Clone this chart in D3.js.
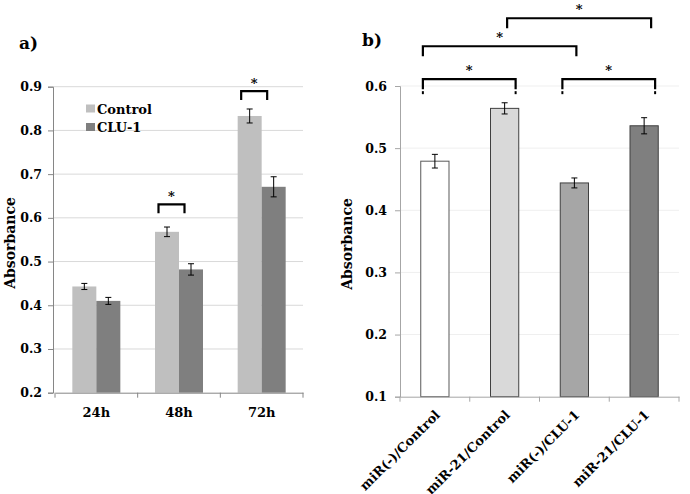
<!DOCTYPE html>
<html><head><meta charset="utf-8">
<script src="https://cdn.jsdelivr.net/npm/d3@7"></script>
<style>
body{margin:0;background:#fff;}
text{font-family:"DejaVu Serif",serif;fill:#000;}
</style></head>
<body>
<svg id="c" width="690" height="494"></svg>
<script>
// ---- Panel a data ----
const timeCats = ["24h","48h","72h"];
const seriesNames = ["Control","CLU-1"];
const controlVals = [0.443, 0.568, 0.833];
const controlErr  = [0.007, 0.011, 0.016];
const cluVals     = [0.410, 0.482, 0.671];
const cluErr      = [0.008, 0.013, 0.023];
const leftTicks = [0.2,0.3,0.4,0.5,0.6,0.7,0.8,0.9];
const leftSigCats = ["48h","72h"];
const leftSigLevels = [0.631, 0.890];

// ---- Panel b data ----
const groupCats = ["miR(-)/Control","miR-21/Control","miR(-)/CLU-1","miR-21/CLU-1"];
const groupVals = [0.479, 0.564, 0.444, 0.536];
const groupErr  = [0.011, 0.009, 0.008, 0.013];
const rightTicks = [0.1,0.2,0.3,0.4,0.5,0.6];
const rightSigPairs = [[0,1],[2,3],[0,2],[1,3]];
const rightSigLevels = [0.611, 0.664, 0.709];
const rightSigLevelIdx = [0,0,1,2];

const svg = d3.select("#c");
const fills = {"Control":"#bfbfbf","CLU-1":"#7f7f7f"};
const groupFills = ["#ffffff","#d9d9d9","#a6a6a6","#7f7f7f"];
const groupStrokes = ["#595959","#404040","#404040","#404040"];

// ================= Panel a =================
const gA = svg.append("g");
const yL = d3.scaleLinear().domain([0.2,0.9]).range([392.7,86.7]);
const xL = d3.scaleBand().domain(timeCats).range([55,303]).padding(0);
const xS = d3.scaleBand().domain(seriesNames).range([-24,24]).padding(0);

gA.append("g").selectAll("line").data(leftTicks.slice(1)).join("line")
  .attr("x1",53).attr("x2",303).attr("y1",d=>yL(d)).attr("y2",d=>yL(d))
  .attr("stroke","#d9d9d9").attr("stroke-width",1);

const yAxL = d3.axisLeft(yL).tickValues(leftTicks).tickFormat(d3.format(".1f")).tickSize(5).tickPadding(6);
gA.append("g").attr("transform","translate(53,0)").call(yAxL)
  .call(g=>{g.select(".domain").attr("stroke","#868686");
    g.selectAll(".tick line").attr("stroke","#868686");
    g.selectAll(".tick text").attr("font-family","DejaVu Serif").attr("font-size",12.5).attr("font-weight","bold").attr("fill","#000");});

const dataL = [];
timeCats.forEach((c,i)=>{
  dataL.push({cat:c,s:"Control",v:controlVals[i],e:controlErr[i]});
  dataL.push({cat:c,s:"CLU-1",v:cluVals[i],e:cluErr[i]});
});
gA.append("g").selectAll("rect").data(dataL).join("rect")
  .attr("x",d=>xL(d.cat)+xL.bandwidth()/2+xS(d.s))
  .attr("width",xS.bandwidth())
  .attr("y",d=>yL(d.v)).attr("height",d=>yL(0.2)-yL(d.v))
  .attr("fill",d=>fills[d.s]);

const xAxL = d3.axisBottom(xL).tickSize(0).tickPadding(15);
const gxL = gA.append("g").attr("transform",`translate(0,${yL(0.2)})`).call(xAxL);
gxL.select(".domain").attr("stroke","#868686");
gxL.selectAll(".tick text").attr("font-family","DejaVu Serif").attr("font-size",13).attr("font-weight","bold").attr("fill","#000");
gA.append("g").selectAll("line").data(xL.domain().map(d=>xL(d)).concat([xL.range()[1]])).join("line")
  .attr("x1",d=>d).attr("x2",d=>d).attr("y1",yL(0.2)).attr("y2",yL(0.2)+5).attr("stroke","#868686");

const eb = gA.append("g").attr("stroke","#000").attr("stroke-width",1);
dataL.forEach(d=>{
  const cx = xL(d.cat)+xL.bandwidth()/2+xS(d.s)+xS.bandwidth()/2;
  eb.append("line").attr("x1",cx).attr("x2",cx).attr("y1",yL(d.v-d.e)).attr("y2",yL(d.v+d.e));
  eb.append("line").attr("x1",cx-3).attr("x2",cx+3).attr("y1",yL(d.v-d.e)).attr("y2",yL(d.v-d.e));
  eb.append("line").attr("x1",cx-3).attr("x2",cx+3).attr("y1",yL(d.v+d.e)).attr("y2",yL(d.v+d.e));
});

leftSigCats.forEach((c,k)=>{
  const yTop = yL(leftSigLevels[k]);
  const x1 = xL(c)+xL.bandwidth()/2+xS("Control")+xS.bandwidth()/2-8.5;
  const x2 = xL(c)+xL.bandwidth()/2+xS("CLU-1")+xS.bandwidth()/2-6.5;
  gA.append("path").attr("d",`M${x1},${yTop+9}V${yTop}H${x2}V${yTop+9}`)
    .attr("fill","none").attr("stroke","#000").attr("stroke-width",2.2);
  gA.append("text").attr("x",(x1+x2)/2).attr("y",yTop-3).attr("text-anchor","middle")
    .attr("font-size",13).attr("font-weight","bold").text("*");
});

const lg = gA.append("g");
seriesNames.forEach((s,i)=>{
  lg.append("rect").attr("x",86).attr("y",104.5+i*18.5).attr("width",9).attr("height",8).attr("fill",fills[s]);
  lg.append("text").attr("x",97).attr("y",113.5+i*18).attr("font-size",13).attr("font-weight","bold").text(s);
});

gA.append("text").attr("transform","translate(15,243) rotate(-90)").attr("text-anchor","middle")
  .attr("font-size",14).attr("font-weight","bold").text("Absorbance");
gA.append("text").attr("x",19).attr("y",49).attr("font-size",17).attr("font-weight","bold").text("a)");

// ================= Panel b =================
const gB = svg.append("g");
const yR = d3.scaleLinear().domain([0.1,0.6]).range([396.7,86]);
const xR = d3.scaleBand().domain(groupCats).range([400,679]).padding(0);
const barW = xR.bandwidth()*0.405;

gB.append("g").selectAll("line").data(rightTicks.slice(1)).join("line")
  .attr("x1",400).attr("x2",679).attr("y1",d=>yR(d)).attr("y2",d=>yR(d))
  .attr("stroke","#efefef").attr("stroke-width",1);

const yAxR = d3.axisLeft(yR).tickValues(rightTicks).tickFormat(d3.format(".1f")).tickSize(5).tickPadding(8);
gB.append("g").attr("transform","translate(400,0)").call(yAxR)
  .call(g=>{g.select(".domain").attr("stroke","#a6a6a6");
    g.selectAll(".tick line").attr("stroke","#a6a6a6");
    g.selectAll(".tick text").attr("font-family","DejaVu Serif").attr("font-size",12.5).attr("font-weight","bold").attr("fill","#000");});

const dataR = groupCats.map((c,i)=>({cat:c,v:groupVals[i],e:groupErr[i],f:groupFills[i],s:groupStrokes[i]}));
gB.append("g").selectAll("rect").data(dataR).join("rect")
  .attr("x",d=>xR(d.cat)+xR.bandwidth()/2-barW/2).attr("width",barW)
  .attr("y",d=>yR(d.v)).attr("height",d=>yR(0.1)-yR(d.v))
  .attr("fill",d=>d.f).attr("stroke",d=>d.s).attr("stroke-width",1);

const gxR = gB.append("g").attr("transform",`translate(0,${yR(0.1)})`).call(d3.axisBottom(xR).tickSize(0).tickFormat(""));
gxR.select(".domain").attr("stroke","#a6a6a6");
gB.append("g").selectAll("line").data(xR.domain().map(d=>xR(d)).concat([xR.range()[1]])).join("line")
  .attr("x1",d=>d).attr("x2",d=>d).attr("y1",yR(0.1)).attr("y2",yR(0.1)+5).attr("stroke","#a6a6a6");

gB.append("g").selectAll("text").data(groupCats).join("text")
  .attr("transform",d=>`translate(${xR(d)+xR.bandwidth()/2+6},${yR(0.1)+19}) rotate(-45)`)
  .attr("text-anchor","end").attr("font-size",13).attr("font-weight","bold").text(d=>d);

const ebR = gB.append("g").attr("stroke","#000").attr("stroke-width",1);
dataR.forEach(d=>{
  const cx = xR(d.cat)+xR.bandwidth()/2;
  ebR.append("line").attr("x1",cx).attr("x2",cx).attr("y1",yR(d.v-d.e)).attr("y2",yR(d.v+d.e));
  ebR.append("line").attr("x1",cx-3).attr("x2",cx+3).attr("y1",yR(d.v-d.e)).attr("y2",yR(d.v-d.e));
  ebR.append("line").attr("x1",cx-3).attr("x2",cx+3).attr("y1",yR(d.v+d.e)).attr("y2",yR(d.v+d.e));
});

rightSigPairs.forEach(([a,b],k)=>{
  const lvl = rightSigLevelIdx[k];
  const ca = xR(groupCats[a])+xR.bandwidth()/2, cb = xR(groupCats[b])+xR.bandwidth()/2;
  let x1 = ca-12, x2 = cb+11;
  if(lvl===1){ x2 = cb+2; }
  if(lvl===2){ x1 = ca+2.5; x2 = cb+7; }
  const y = yR(rightSigLevels[lvl]);
  gB.append("path").attr("d",`M${x1},${y+10}V${y}H${x2}V${y+10}`)
    .attr("fill","none").attr("stroke","#000").attr("stroke-width",2.2);
  if(lvl===0){
    [x1,x2].forEach(x=>gB.append("line").attr("x1",x).attr("x2",x).attr("y1",y+12).attr("y2",y+15)
      .attr("stroke","#000").attr("stroke-width",2));
  }
  gB.append("text").attr("x",(x1+x2)/2).attr("y",y-4).attr("text-anchor","middle")
    .attr("font-size",13).attr("font-weight","bold").text("*");
});

gB.append("text").attr("transform","translate(352,244) rotate(-90)").attr("text-anchor","middle")
  .attr("font-size",14).attr("font-weight","bold").text("Absorbance");
gB.append("text").attr("x",362).attr("y",46).attr("font-size",17).attr("font-weight","bold").text("b)");
</script>
</body></html>
